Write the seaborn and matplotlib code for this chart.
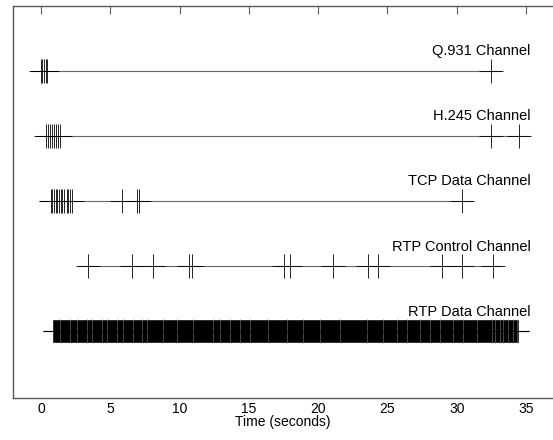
import numpy as np
import pandas as pd
import seaborn as sns
from matplotlib import pyplot as plt

# Channel names, top to bottom
channels = ["Q.931 Channel", "H.245 Channel", "TCP Data Channel",
            "RTP Control Channel", "RTP Data Channel"]

# Extent of each channel's baseline (seconds)
line_start = [-0.72, -0.36, -0.12, 2.70, 0.17]
line_end = [33.2, 35.2, 31.2, 33.3, 35.2]

# Event times (seconds)
q931_events = [-0.02, 0.09, 0.22, 0.34, 0.46, 32.47]
h245_events = [0.36, 0.50, 0.65, 0.79, 0.94, 1.08, 1.23, 1.37, 32.47, 34.5]
tcp_events = [0.70, 0.82, 0.94, 1.06, 1.18, 1.31, 1.42, 1.54, 1.66, 1.85,
              1.97, 2.09, 2.26, 5.87, 6.90, 7.05, 30.4]
rtcp_events = [3.41, 6.59, 8.10, 10.68, 10.87, 17.55, 17.97, 21.05, 23.61,
               24.34, 28.95, 30.35, 32.59]

# RTP data: packets are too dense to resolve, so keep the busy span
# and the lighter stripes (short pauses) seen in the trace
rtp_span = (0.77, 34.5)
rtp_pauses = [1.37, 2.09, 2.57, 3.29, 3.66, 4.38, 4.74, 5.46, 5.94, 6.66,
              7.26, 7.62, 8.83, 9.79, 10.99, 12.43, 12.91, 13.64, 14.36,
              15.08, 16.40, 17.72, 18.93, 20.13, 21.57, 23.50, 24.70, 25.66,
              26.38, 27.34, 28.07, 28.79, 29.75, 30.47, 31.43, 32.52, 32.76,
              33.12, 33.36, 33.72, 34.08, 34.32]

events = pd.DataFrame({
    "time": q931_events + h245_events + tcp_events + rtcp_events,
    "row": [0] * len(q931_events) + [1] * len(h245_events)
    + [2] * len(tcp_events) + [3] * len(rtcp_events),
})

sns.set_style("white")
plt.rcParams["font.family"] = ["Liberation Sans", "DejaVu Sans"]

fig = plt.figure(figsize=(5.53, 4.40), dpi=100)
ax = fig.add_axes([0.024, 0.0955, 0.976, 0.8915])

half = 0.184  # half height of an event mark, in row units

# baselines
ax.hlines(range(len(channels)), line_start, line_end, color="0.4",
          linewidth=0.8, zorder=1)

# discrete events as crosses
sns.scatterplot(data=events, x="time", y="row", marker="+", s=320,
                color="k", linewidth=0.6, ax=ax, legend=False, zorder=3)

# RTP data: dense block with lighter pause stripes
ax.broken_barh([(rtp_span[0], rtp_span[1] - rtp_span[0])], (4 - half, 2 * half),
               facecolors="k", zorder=2)
ax.vlines(rtp_pauses, 4 - half, 4 + half, color="0.4", linewidth=0.5, zorder=2)
ax.hlines(4, line_start[4], line_end[4], color="k", linewidth=0.8, zorder=3)

for i, name in enumerate(channels):
    ax.text(35.35, i - 0.24, name, ha="right", va="baseline", fontsize=10.5,
            color="k")

ax.set_xlim(-2.0, 36.95)
ax.set_ylim(5.02, -0.994)
ax.set_xticks(range(0, 36, 5))
ax.set_yticks([])
ax.set_ylabel("")
ax.set_xlabel("Time (seconds)", fontsize=10, labelpad=-1, color="k")
ax.tick_params(axis="x", direction="in", length=6, width=0.8, top=True,
               color="0.35", labelsize=10, pad=3, labelcolor="k")
for sp in ax.spines.values():
    sp.set_color("0.35")
    sp.set_linewidth(1.0)
ax.spines["right"].set_visible(False)

fig.savefig("out.png", dpi=100)
